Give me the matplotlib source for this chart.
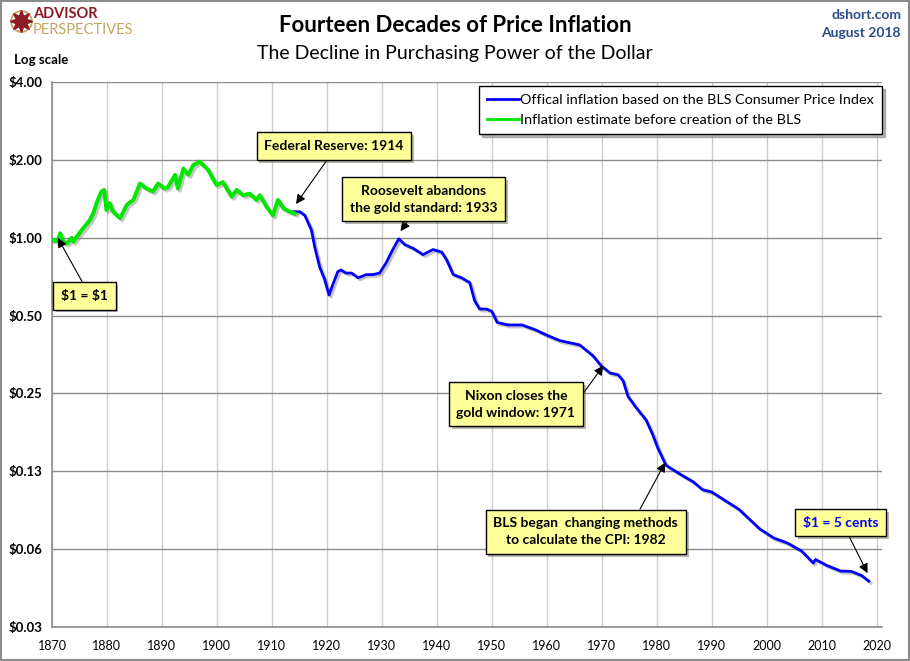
import numpy as np
import matplotlib
matplotlib.use("Agg")
import matplotlib.pyplot as plt
import matplotlib.patheffects as pe
from matplotlib.lines import Line2D
from matplotlib.patches import Rectangle

plt.rcParams['font.family'] = ['Lato', 'DejaVu Sans']

# Purchasing power of $1 (1870 = $1)
est_years = [1870.0, 1871.0, 1871.5, 1872.0, 1872.7, 1873.6, 1873.9, 1874.5, 1875.7, 1876.9,
             1877.5, 1878.1, 1879.0, 1879.5, 1879.9, 1880.5, 1881.1, 1882.4, 1883.6, 1884.8,
             1886.0, 1887.2, 1888.4, 1889.3, 1890.5, 1891.1, 1892.4, 1892.9, 1893.9, 1894.8,
             1895.7, 1896.9, 1897.5, 1898.4, 1899.9, 1901.1, 1902.7, 1903.6, 1904.8, 1906.0,
             1907.2, 1907.8, 1909.0, 1910.2, 1911.1, 1912.1, 1913.3, 1914.2]
est_values = [0.98, 0.97, 1.04, 0.965, 0.95, 1.0, 0.965, 1.01, 1.09, 1.17,
              1.24, 1.36, 1.51, 1.53, 1.28, 1.36, 1.26, 1.19, 1.34, 1.40,
              1.62, 1.55, 1.51, 1.62, 1.55, 1.57, 1.75, 1.55, 1.85, 1.75,
              1.91, 1.97, 1.91, 1.83, 1.60, 1.64, 1.44, 1.53, 1.46, 1.48,
              1.40, 1.46, 1.32, 1.22, 1.40, 1.30, 1.26, 1.24]

cpi_years = [1913.5, 1914.2, 1915.1, 1916.0, 1917.2, 1917.8, 1918.7, 1919.6, 1920.4, 1921.1,
             1922.0, 1922.6, 1923.5, 1924.5, 1925.7, 1927.2, 1928.4, 1929.6, 1930.8, 1932.0,
             1933.1, 1934.2, 1935.7, 1937.5, 1939.3, 1940.9, 1941.8, 1943.0, 1944.5, 1946.0,
             1946.9, 1947.8, 1949.0, 1950.0, 1951.0, 1953.0, 1955.5, 1958.0, 1960.0, 1962.4,
             1966.0, 1968.4, 1969.9, 1971.5, 1973.0, 1973.9, 1974.8, 1976.3, 1978.1, 1979.3,
             1980.2, 1981.7, 1982.9, 1984.8, 1986.6, 1988.4, 1990.0, 1995.0, 1998.7, 2001.3,
             2003.8, 2006.4, 2008.5, 2008.9, 2011.0, 2013.5, 2015.4, 2017.3, 2018.6]
cpi_values = [1.26, 1.26, 1.26, 1.22, 1.07, 0.92, 0.77, 0.69, 0.60, 0.66,
              0.74, 0.75, 0.73, 0.73, 0.70, 0.72, 0.72, 0.73, 0.80, 0.90,
              0.99, 0.94, 0.91, 0.86, 0.90, 0.88, 0.82, 0.72, 0.70, 0.67,
              0.57, 0.53, 0.53, 0.52, 0.47, 0.46, 0.46, 0.44, 0.42, 0.40,
              0.385, 0.35, 0.32, 0.30, 0.295, 0.28, 0.243, 0.22, 0.197, 0.173,
              0.154, 0.132, 0.127, 0.12, 0.114, 0.106, 0.104, 0.089, 0.075, 0.069,
              0.066, 0.0614, 0.0552, 0.057, 0.054, 0.0514, 0.0513, 0.0494, 0.047]

year_ticks = list(range(1870, 2021, 10))
price_ticks = [0.03125, 0.0625, 0.125, 0.25, 0.5, 1.0, 2.0, 4.0]
price_labels = ['$0.03', '$0.06', '$0.13', '$0.25', '$0.50', '$1.00', '$2.00', '$4.00']

fig = plt.figure(figsize=(9.1, 6.61), dpi=100)
ax = fig.add_axes([52 / 910, 34 / 661, 830 / 910, 545 / 661])

shadow = [pe.SimpleLineShadow(offset=(1.5, -1.5), shadow_color='gray', alpha=0.45), pe.Normal()]
blue, = ax.plot(cpi_years, cpi_values, color='#0000FF', lw=2.0, path_effects=shadow,
                label='Offical inflation based on the BLS Consumer Price Index', zorder=4)
green, = ax.plot(est_years, est_values, color='#00E600', lw=2.8, path_effects=shadow,
                 label='Inflation estimate before creation of the BLS', zorder=5)

ax.set_yscale('log', base=2)
ax.set_ylim(0.03125, 4)
ax.set_xlim(1870, 2021)
ax.set_yticks(price_ticks)
ax.set_yticklabels(price_labels, fontweight='bold', fontsize=9.5)
ax.yaxis.set_minor_locator(matplotlib.ticker.NullLocator())
ax.set_xticks(year_ticks)
ax.set_xticklabels([str(y) for y in year_ticks], fontsize=9)
ax.tick_params(length=0, pad=7)
ax.tick_params(axis='x', pad=9)

ax.grid(axis='y', color='#8C8C8C', lw=1.0)
ax.grid(axis='x', color='#CCCCCC', lw=1.0)
ax.set_axisbelow(True)
for s in ['top', 'right']:
    ax.spines[s].set_visible(False)
for s in ['left', 'bottom']:
    ax.spines[s].set_color('#8C8C8C')
    ax.spines[s].set_linewidth(1.2)

leg = ax.legend(handles=[blue, green], loc='upper right', bbox_to_anchor=(1.0, 0.993),
                borderaxespad=0, fancybox=False, shadow={'color': '#888888', 'alpha': 0.6},
                edgecolor='black', fontsize=10.4, handlelength=2.2, handletextpad=0.1,
                borderpad=0.55, labelspacing=0.55, framealpha=1)
leg.get_frame().set_linewidth(1.0)
for h in leg.legend_handles:
    h.set_path_effects([])
    h.set_linewidth(2.0)


def value_at(year):
    yrs = est_years + cpi_years if year < 1913.5 else cpi_years
    vals = est_values + cpi_values if year < 1913.5 else cpi_values
    return float(np.exp(np.interp(year, yrs, np.log(vals))))


notes = [
    (r'\$1 = \$1', 1870.8, 1875.9, 0.595, (0.55, 1), 'black'),
    ('Federal Reserve: 1914', 1914.1, 1921.3, 2.26, (0.49, 0), 'black'),
    ('Roosevelt abandons\nthe gold standard: 1933', 1933.1, 1937.6, 1.41, (0.43, 0), 'black'),
    ('Nixon closes the\ngold window: 1971', 1970.6, 1954.4, 0.227, (1.0, 0.5), 'black'),
    ('BLS began  changing methods\nto calculate the CPI: 1982', 1981.8, 1967.1, 0.0729, (0.77, 1), 'black'),
    ('$1 = 5 cents', 2018.6, 2013.5, 0.079, (0.56, 0), '#0000FF'),
]
for text, yr, tx, ty, rel, col in notes:
    t = ax.annotate(text, xy=(yr, value_at(yr) * 1.05), xytext=(tx, ty), textcoords='data',
                    ha='center', va='center', fontsize=10, fontweight='bold', color=col,
                    linespacing=1.5, zorder=8,
                    bbox=dict(boxstyle='square,pad=0.55', fc='#FFFF99', ec='black', lw=1.0),
                    arrowprops=dict(arrowstyle='-|>', color='black', lw=0.8, relpos=rel,
                                    shrinkA=0, shrinkB=2, mutation_scale=14))
    t.get_bbox_patch().set_path_effects([pe.SimplePatchShadow(offset=(2, -2), alpha=0.4), pe.Normal()])

# header texts
fig.text(455 / 910, 1 - 25 / 661, 'Fourteen Decades of Price Inflation', ha='center', va='center',
         fontsize=16, fontweight='bold')
fig.text(455 / 910, 1 - 53 / 661, 'The Decline in Purchasing Power of the Dollar', ha='center',
         va='center', fontsize=14)
fig.text(14 / 910, 1 - 60 / 661, 'Log scale', ha='left', va='center', fontsize=9.5, fontweight='bold')
fig.text(901 / 910, 1 - 15 / 661, 'dshort.com', ha='right', va='center', fontsize=10,
         fontweight='bold', color='#2B4C8C')
fig.text(901 / 910, 1 - 33 / 661, 'August 2018', ha='right', va='center', fontsize=10,
         fontweight='bold', color='#2B4C8C')

# logo
fig.text(33 / 910, 1 - 18 / 661, 'ADVISOR', ha='left', va='baseline', fontsize=10.5,
         fontweight='bold', color='#8B1C24')
fig.text(33 / 910, 1 - 22.5 / 661, 'PERSPECTIVES', ha='left', va='top', fontsize=10.5,
         color='#C4A463')
fig.add_artist(Line2D([21 / 910], [1 - 21 / 661], marker='o', ms=15, mfc='none', mec='#C4A463',
                      mew=1.3, transform=fig.transFigure))
fig.add_artist(Line2D([21 / 910], [1 - 21 / 661], marker=(8, 1, 0), ms=16, color='#8B1C24',
                      transform=fig.transFigure))

fig.add_artist(Rectangle((0.001, 0.001), 0.998, 0.998, transform=fig.transFigure, fill=False,
                         ec='#8C8C8C', lw=1.5))

fig.savefig('out.png', dpi=100)
